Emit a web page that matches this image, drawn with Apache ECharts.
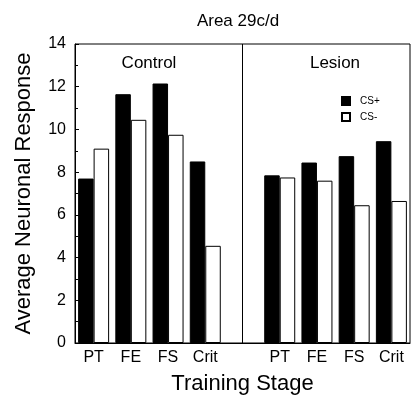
<!DOCTYPE html>
<html>
<head>
<meta charset="utf-8">
<script src="https://cdn.jsdelivr.net/npm/echarts@6/dist/echarts.min.js"></script>
<style>html,body{margin:0;padding:0;background:#fff}#c{width:411px;height:400px}</style>
</head>
<body>
<div id="c"></div>
<script>
const stages = ['PT', 'FE', 'FS', 'Crit'];
const groups = ['Control', 'Lesion'];
const controlCSplus = [7.7, 11.65, 12.15, 8.5];
const controlCSminus = [9.1, 10.45, 9.75, 4.55];
const lesionCSplus = [7.85, 8.45, 8.75, 9.45];
const lesionCSminus = [7.75, 7.6, 6.45, 6.65];
const yTicks = [0, 2, 4, 6, 8, 10, 12, 14];

const FONT = 'Liberation Sans, Arial, sans-serif';
const cats = stages.concat(['']).concat(stages);
const plus = controlCSplus.concat(['-']).concat(lesionCSplus);
const minus = controlCSminus.concat(['-']).concat(lesionCSminus);
const dividerIndex = stages.length;

const chart = echarts.init(document.getElementById('c'), null, {renderer: 'canvas'});
chart.setOption({
  animation: false,
  backgroundColor: '#fff',
  textStyle: {fontFamily: FONT, color: '#000'},
  title: [
    {text: 'Area 29c/d', left: 233, top: 8, textAlign: 'center',
     textStyle: {fontFamily: FONT, fontSize: 17, fontWeight: 'normal', color: '#000'}},
    {text: groups[0], left: 144, top: 50, textAlign: 'center',
     textStyle: {fontFamily: FONT, fontSize: 17, fontWeight: 'normal', color: '#000'}},
    {text: groups[1], left: 330, top: 50, textAlign: 'center',
     textStyle: {fontFamily: FONT, fontSize: 17, fontWeight: 'normal', color: '#000'}}
  ],
  legend: {
    orient: 'vertical', left: 336, top: 91, itemWidth: 8, itemHeight: 8, itemGap: 6,
    icon: 'rect',
    textStyle: {fontFamily: FONT, fontSize: 10, color: '#000', padding: [0, 0, 0, 5]},
    data: ['CS+', 'CS-']
  },
  grid: {left: 75, right: 1, top: 44, bottom: 55, show: true, borderColor: '#000', borderWidth: 1, backgroundColor: 'transparent'},
  xAxis: {
    type: 'category', data: cats,
    axisLine: {lineStyle: {color: '#000'}}, axisTick: {show: false},
    axisLabel: {color: '#000', fontSize: 16, margin: 7, fontFamily: FONT, interval: 0},
    name: 'Training Stage', nameLocation: 'middle', nameGap: 30,
    nameTextStyle: {fontSize: 22, color: '#000', fontFamily: FONT}
  },
  yAxis: {
    type: 'value', min: 0, max: 14, interval: 2,
    axisLine: {show: true, lineStyle: {color: '#000'}},
    axisTick: {show: true, inside: true, length: 4, lineStyle: {color: '#000'}},
    minorTick: {show: true, splitNumber: 2, length: 3, lineStyle: {color: '#000'}},
    splitLine: {show: false},
    axisLabel: {color: '#000', fontSize: 16, margin: 9, fontFamily: FONT,
      formatter: v => yTicks.includes(v) ? String(v) : ''},
    name: 'Average Neuronal Response', nameLocation: 'middle', nameRotate: 90, nameGap: 40,
    nameTextStyle: {fontSize: 22, color: '#000', fontFamily: FONT}
  },
  series: [
    {name: 'CS+', type: 'bar', data: plus, barWidth: 15.5, barGap: '0%',
     itemStyle: {color: '#000', borderColor: '#000', borderWidth: 1}},
    {name: 'CS-', type: 'bar', data: minus, barWidth: 15.5, barGap: '0%',
     itemStyle: {color: '#fff', borderColor: '#000', borderWidth: 1}},
    {name: 'divider', type: 'line', data: [], silent: true,
     markLine: {silent: true, symbol: 'none', label: {show: false},
       lineStyle: {color: '#000', type: 'solid', width: 1},
       data: [{xAxis: dividerIndex}]}}
  ]
});
</script>
</body>
</html>
